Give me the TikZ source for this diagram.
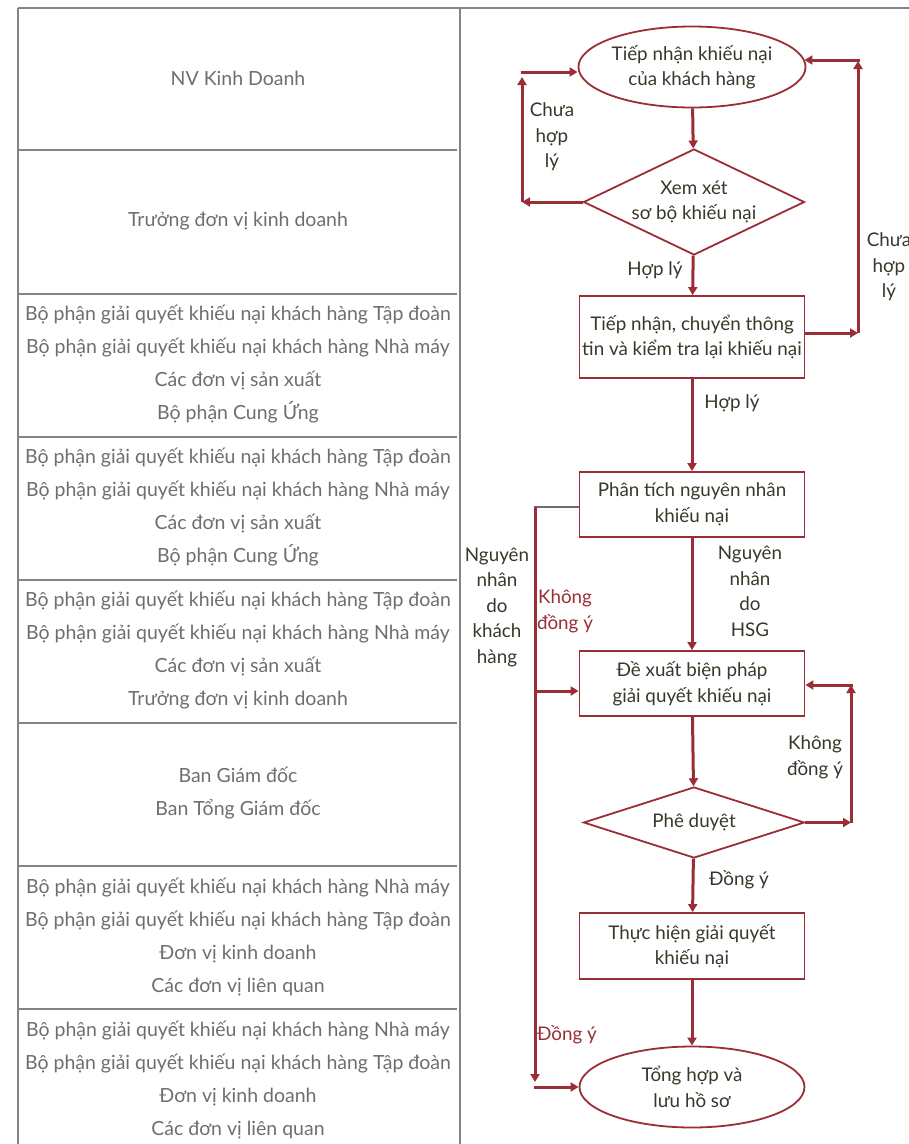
\documentclass[tikz,border=0pt]{standalone}
\usepackage{fontspec}
\setmainfont{Lato}
\usetikzlibrary{shapes.geometric,arrows.meta,positioning}
\definecolor{hsgred}{HTML}{9B2D36}
\definecolor{ink}{HTML}{3A3629}
\definecolor{lanegray}{HTML}{6D6E71}
\begin{document}
\begin{tikzpicture}[x=1pt,y=-1pt,
  lane/.style={draw=lanegray!85, line width=1.1pt},
  lanetext/.style={text=lanegray, align=center, inner sep=0pt, font=\fontsize{19.5}{33}\selectfont},
  proc/.style={draw=hsgred, line width=1.8pt, text=ink, align=center, inner sep=0pt,
    minimum width=225pt, font=\fontsize{18.8}{25.5}\selectfont},
  term/.style={proc, ellipse, minimum height=81pt},
  decide/.style={proc, diamond, minimum width=221pt},
  flow/.style={draw=hsgred, line width=3pt, -{Triangle[length=8pt,width=9pt]}},
  lbl/.style={text=ink, align=center, inner sep=0pt, font=\fontsize{18.8}{25.5}\selectfont},
  redlbl/.style={lbl, text=hsgred}]
\useasboundingbox (0,0) rectangle (909,1144);
\draw[lane] (18,8) -- (909,8);
\draw[lane] (18,8) -- (18,1144);
\draw[lane] (460,8) -- (460,1144);
\foreach \y in {150,294,437,580,723,866,1009}
  \draw[lane] (18,\y) -- (457,\y);
\node[lanetext] (lane1) at (238,78) {NV Kinh Doanh};
\node[lanetext] (lane2) at (238,221) {Trưởng đơn vị kinh doanh};
\node[lanetext] (lane3) at (238,364.5) {Bộ phận giải quyết khiếu nại khách hàng Tập đoàn\\Bộ phận giải quyết khiếu nại khách hàng Nhà máy\\Các đơn vị sản xuất\\Bộ phận Cung Ứng};
\node[lanetext] (lane4) at (238,507.5) {Bộ phận giải quyết khiếu nại khách hàng Tập đoàn\\Bộ phận giải quyết khiếu nại khách hàng Nhà máy\\Các đơn vị sản xuất\\Bộ phận Cung Ứng};
\node[lanetext] (lane5) at (238,650.5) {Bộ phận giải quyết khiếu nại khách hàng Tập đoàn\\Bộ phận giải quyết khiếu nại khách hàng Nhà máy\\Các đơn vị sản xuất\\Trưởng đơn vị kinh doanh};
\node[lanetext] (lane6) at (238,793.5) {Ban Giám đốc\\Ban Tổng Giám đốc};
\node[lanetext] (lane7) at (238,936.5) {Bộ phận giải quyết khiếu nại khách hàng Nhà máy\\Bộ phận giải quyết khiếu nại khách hàng Tập đoàn\\Đơn vị kinh doanh\\Các đơn vị liên quan};
\node[lanetext] (lane8) at (238,1079.5) {Bộ phận giải quyết khiếu nại khách hàng Nhà máy\\Bộ phận giải quyết khiếu nại khách hàng Tập đoàn\\Đơn vị kinh doanh\\Các đơn vị liên quan};

\node[term] (recv) at (692,67) {Tiếp nhận khiếu nại\\của khách hàng};
\node[decide, aspect=2.1, minimum height=106pt] (review) at (694,202) {Xem xét\\sơ bộ khiếu nại};
\node[proc, minimum height=82pt] (check) at (692,337) {Tiếp nhận, chuyển thông\\tin và kiểm tra lại khiếu nại};
\node[proc, minimum height=65pt] (cause) at (692,504.5) {Phân tích nguyên nhân\\khiếu nại};
\node[proc, minimum height=65pt] (propose) at (692,683.5) {Đề xuất biện pháp\\giải quyết khiếu nại};
\node[decide, aspect=3.1, minimum height=71pt] (approve) at (694,822.5) {Phê duyệt};
\node[proc, minimum height=66pt] (exec) at (692,946) {Thực hiện giải quyết\\khiếu nại};
\node[term] (archive) at (692,1087) {Tổng hợp và\\lưu hồ sơ};

\coordinate (l1) at (522,202);
\coordinate (l2) at (522,72);
\coordinate (r1) at (858,333);
\coordinate (r2) at (858,60);
\coordinate (b0) at (535,507);
\coordinate (b1) at (535,1082);
\coordinate (b2) at (535,691);
\coordinate (b3) at (535,1087);
\coordinate (k1) at (851,822.5);
\coordinate (k2) at (851,685);

\draw[flow] (recv) -- (review);
\draw[flow] (review.west) -- (l1);
\draw[flow, shorten >=5pt] (l1) -- (l2);
\draw[flow] ([xshift=-1.5pt]l2) -- (l2 -| recv.west);
\draw[flow] (review) -- (check);
\draw[flow] (check.east |- r1) -- (r1);
\draw[flow, shorten >=1pt] (r1) -- (r2);
\draw[flow] ([xshift=1.5pt]r2) -- ([xshift=-2pt]r2 -| recv.east);
\draw[flow] (check) -- (cause);
\draw[flow] (cause) -- (propose);
\draw[lanegray, line width=1.3pt] (cause.west |- b0) -- ([xshift=-1.5pt]b0);
\draw[flow] (b0) -- (b1);
\draw[flow] (b2) -- (b2 -| propose.west);
\draw[flow] ([xshift=-1.5pt]b3) -- (archive.west);
\draw[flow] (propose) -- (approve);
\draw[flow] (approve.east) -- (k1);
\draw[flow] (k1) -- (k2);
\draw[flow] ([xshift=1.5pt]k2) -- (k2 -| propose.east);
\draw[flow] (approve) -- (exec);
\draw[flow] (exec) -- (archive);

\node[lbl] (nochk1) at (552,137) {Chưa\\hợp\\lý};
\node[lbl] (ok1) at (655,270) {Hợp lý};
\node[lbl] (nochk2) at (889,267) {Chưa\\hợp\\lý};
\node[lbl] (ok2) at (732,403) {Hợp lý};
\node[lbl] (byhsg) at (750,591.5) {Nguyên\\nhân\\do\\HSG};
\node[lbl] (bycust) at (497,607) {Nguyên\\nhân\\do\\khách\\hàng};
\node[redlbl] (deny1) at (565,611.5) {Không\\đồng ý};
\node[lbl] (deny2) at (815,757.5) {Không\\đồng ý};
\node[lbl] (agree1) at (739,880) {Đồng ý};
\node[redlbl] (agree2) at (567,1035) {Đồng ý};
\end{tikzpicture}
\end{document}
